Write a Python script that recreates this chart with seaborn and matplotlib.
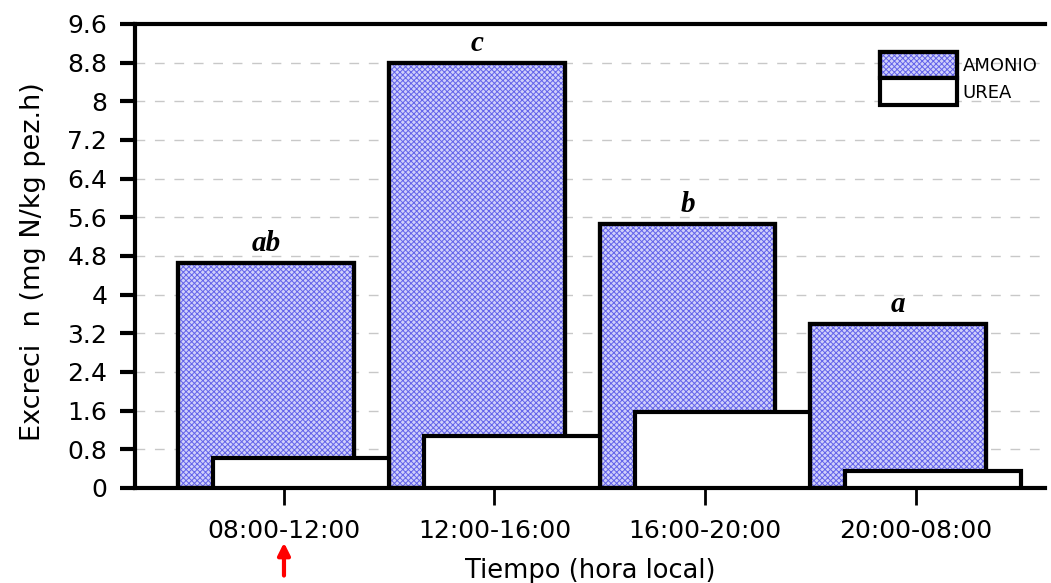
import pandas as pd
import seaborn as sns
import numpy as np
import matplotlib.pyplot as plt
from matplotlib.patches import Patch, Rectangle

# data
periodos = ['08:00-12:00', '12:00-16:00', '16:00-20:00', '20:00-08:00']
amonio = [4.66, 8.79, 5.46, 3.39]
urea = [0.62, 1.08, 1.57, 0.35]
letras = ['ab', 'c', 'b', 'a']
yticks = [0, 0.8, 1.6, 2.4, 3.2, 4, 4.8, 5.6, 6.4, 7.2, 8, 8.8, 9.6]

sns.set_style('white')
plt.rcParams['font.family'] = ['DejaVu Sans']
plt.rcParams['hatch.linewidth'] = 0.7
for k in ['text.color', 'axes.labelcolor', 'xtick.color', 'ytick.color']:
    plt.rcParams[k] = 'black'

FONDO = '#d0d0fa'
TRAMA = '#6363ea'

pos = np.arange(len(periodos))
off = 0.083
df_a = pd.DataFrame({'x': pos - off, 'y': amonio})
df_u = pd.DataFrame({'x': pos + off, 'y': urea})

fig = plt.figure(figsize=(10.51, 5.83), dpi=100)
ax = fig.add_axes([0.1285, 0.163, 0.866, 0.796])

sns.barplot(data=df_a, x='x', y='y', native_scale=True, width=0.834,
            color=FONDO, edgecolor='black', linewidth=3,
            saturation=1, ax=ax, zorder=2)
# trama azul encima de las barras de amonio
for p in list(ax.patches):
    ax.add_patch(Rectangle(p.get_xy(), p.get_width(), p.get_height(), fill=False,
                           edgecolor=TRAMA, linewidth=0, hatch='xxxxxx', zorder=2.1))
    ax.add_patch(Rectangle(p.get_xy(), p.get_width(), p.get_height(), fill=False,
                           edgecolor='black', linewidth=3, zorder=2.2))

sns.barplot(data=df_u, x='x', y='y', native_scale=True, width=0.834,
            color='white', edgecolor='black', linewidth=3,
            saturation=1, ax=ax, zorder=3)

for p, v, t in zip(pos - off, amonio, letras):
    ax.text(p, v + 0.12, t, ha='center', va='bottom', fontsize=21,
            fontweight='bold', fontstyle='italic', family='Liberation Serif')

ax.set_xlim(-0.706, 3.615)
ax.set_ylim(0, 9.6)
ax.set_xticks(pos)
ax.set_xticklabels(periodos, fontsize=18)
ax.set_yticks(yticks)
ax.set_yticklabels([f'{v:g}' for v in yticks], fontsize=18)
ax.yaxis.grid(True, linestyle=(0, (7, 7)), color='#c8c8c8', linewidth=1, zorder=0)
ax.set_axisbelow(True)

for s in ['left', 'top', 'bottom']:
    ax.spines[s].set_linewidth(3)
    ax.spines[s].set_color('black')
ax.spines['right'].set_visible(False)
ax.tick_params(axis='y', direction='out', length=11, width=3, pad=9, left=True)
ax.tick_params(axis='x', direction='out', length=12, width=2, pad=10, bottom=True)

ax.set_xlabel('Tiempo (hora local)', fontsize=18.5)
ax.set_ylabel('Excreci  n (mg N/kg pez.h)', fontsize=19.5)
ax.yaxis.set_label_coords(-0.098, 0.487)
ax.xaxis.set_label_coords(0.5, -0.150)

h_amonio = (Patch(facecolor=FONDO, edgecolor='black', linewidth=3),
            Patch(fill=False, edgecolor=TRAMA, linewidth=0, hatch='xxxxxx'),
            Patch(fill=False, edgecolor='black', linewidth=3))
h_urea = Patch(facecolor='white', edgecolor='black', linewidth=3)
ax.legend([h_amonio, h_urea], ['AMONIO', 'UREA'], loc='upper left',
          bbox_to_anchor=(0.819, 0.94), frameon=False, fontsize=13,
          handlelength=4.26, handleheight=1.9, labelspacing=0.0,
          handletextpad=0.3, borderpad=0, borderaxespad=0)

# flecha roja
ax.annotate('', xy=(0.2702, 0.074), xytext=(0.2702, 0.008),
            xycoords='figure fraction', textcoords='figure fraction',
            arrowprops=dict(arrowstyle='-|>', color='red', lw=3, mutation_scale=18))

fig.savefig('out.png', dpi=100)
